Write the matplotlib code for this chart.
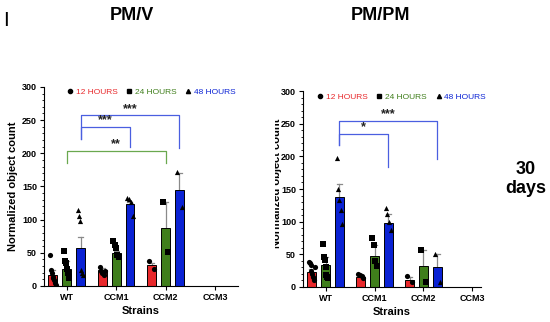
import numpy as np
import matplotlib.pyplot as plt
from matplotlib.lines import Line2D
from matplotlib.transforms import Bbox, TransformedBbox
from matplotlib.ticker import MultipleLocator

plt.rcParams['font.family'] = ['Liberation Sans', 'DejaVu Sans']

strains = ['WT', 'CCM1', 'CCM2', 'CCM3']
hours = ['12 HOURS', '24 HOURS', '48 HOURS']
colors = ['#e8282b', '#3f7e1b', '#0a22d4']
markers = ['o', 's', '^']

# PM/V : bar means, upper error, individual points (per strain, per hour)
pmv_mean = [[17, 25, 57], [24, 49, 124], [31, 88, 145], [0, 0, 0]]
pmv_err = [[24, 38, 74], [27, 53, 127], [34, 127, 171], [0, 0, 0]]
pmv_pts = [
    [[46, 24, 19, 14, 12, 9, 4, 1], [53, 37, 34, 25, 19, 14, 12], [115, 106, 98, 24, 20, 17]],
    [[28, 23, 19, 16, 22], [67, 62, 57, 47, 44], [132, 131, 126, 105]],
    [[38, 25], [126, 51], [172, 119]],
    [[], [], []],
]

# PM/PM
pmpm_mean = [[23, 33, 138], [15, 47, 98], [11, 32, 30], [0, 0, 0]]
pmpm_err = [[28, 46, 157], [18, 64, 112], [15, 56, 51], [0, 0, 0]]
pmpm_pts = [
    [[38, 36, 33, 25, 20, 15, 10, 30], [66, 46, 41, 31, 18, 15, 13], [197, 150, 133, 118, 96]],
    [[20, 18, 16, 14], [75, 64, 40, 32], [121, 112, 99, 87]],
    [[17, 8], [56, 8], [50, 8]],
    [[], [], []],
]

# significance brackets: (strain a, hour a, strain b, hour b, bar y, leg a end, leg b end, label)
pmv_sig = [
    (0, 2, 2, 2, 257, 222, 208, '***'),
    (0, 2, 1, 2, 240, 222, 209, '***'),
    (0, 1, 2, 1, 203, 185, 185, '**'),
]
pmpm_sig = [
    (0, 2, 2, 2, 254, 217, 196, '***'),
    (0, 2, 1, 2, 235, 217, 184, '*'),
]

offsets = [-0.28, 0.0, 0.28]
width = 0.18

fig = plt.figure(figsize=(5.5, 3.22), dpi=100)
ax1 = fig.add_axes([0.080, 0.112, 0.353, 0.618])
ax2 = fig.add_axes([0.551, 0.109, 0.324, 0.608])


def draw(ax, mean, err, pts, sig, xmax):
    x = np.arange(len(strains))
    for h in range(3):
        m = [row[h] for row in mean]
        xs = x + offsets[h]
        keep = [i for i in range(len(strains)) if m[i] > 0]
        ax.bar(xs[keep], [m[i] for i in keep], width=width, color=colors[h],
               edgecolor='black', linewidth=0.7, zorder=2)
        for i in keep:
            e = err[i][h]
            ax.plot([xs[i], xs[i]], [m[i], e], color='#8a8a8a', lw=0.9, zorder=1)
            ax.plot([xs[i] - 0.05, xs[i] + 0.05], [e, e], color='#8a8a8a', lw=0.9, zorder=1)
            p = pts[i][h]
            jit = np.linspace(-width * 0.3, width * 0.3, len(p)) if len(p) > 1 else [0]
            ax.scatter(xs[i] + np.array(jit), p, marker=markers[h], s=14, color='black',
                       zorder=3, linewidths=0)
    for sa, ha, sb, hb, y, ya, yb, lab in sig:
        xa = sa + offsets[ha]
        xb = sb + offsets[hb]
        c = '#6aa84f' if ha == 1 else '#4a5fe0'
        ax.plot([xa, xa, xb, xb], [ya, y, y, yb], color=c, lw=0.9, zorder=1)
        ax.text((xa + xb) / 2, y + 1, lab, ha='center', va='bottom',
                fontsize=9, fontweight='bold', color='#222222')
    ax.set_xlim(-0.46, xmax)
    ax.set_ylim(0, 300)
    ax.set_xticks(x)
    ax.set_xticklabels(strains, fontsize=6.5, fontweight='bold')
    ax.yaxis.set_major_locator(MultipleLocator(50))
    ax.yaxis.set_minor_locator(MultipleLocator(10))
    for lab in ax.get_yticklabels():
        lab.set_fontsize(6.5)
        lab.set_fontweight('bold')
    ax.tick_params(axis='both', which='major', length=3, width=0.8, pad=2)
    ax.tick_params(axis='y', which='minor', length=1.8, width=0.6)
    ax.spines['top'].set_visible(False)
    ax.spines['right'].set_visible(False)
    ax.spines['left'].set_linewidth(0.8)
    ax.spines['bottom'].set_linewidth(0.8)
    ax.set_xlabel('Strains', fontsize=8, fontweight='bold', labelpad=3)
    handles = [Line2D([], [], marker=markers[h], color='black', ls='none', markersize=3)
               for h in range(3)]
    ax.legend(handles, hours, loc='upper center', bbox_to_anchor=(0.55, 1.03), ncol=3,
              frameon=False, labelcolor=colors, handletextpad=0.2,
              columnspacing=0.9, handlelength=1.0, fontsize=6)


draw(ax1, pmv_mean, pmv_err, pmv_pts, pmv_sig, 3.47)
draw(ax2, pmpm_mean, pmpm_err, pmpm_pts, pmpm_sig, 3.18)

ax1.set_ylabel('Normalized object count', fontsize=8, fontweight='bold', labelpad=3)
yl = fig.text(277 / 550, 1 - 183 / 322, 'Normalized object count', rotation=90,
              ha='center', va='center', fontsize=8, fontweight='bold')
yl.set_clip_on(True)
yl.set_clip_box(TransformedBbox(Bbox([[275 / 550, 0], [1, 1]]), fig.transFigure))

fig.text(132 / 550, 1 - 16 / 322, 'PM/V', ha='center', va='center', fontsize=13, fontweight='bold')
fig.text(380 / 550, 1 - 16 / 322, 'PM/PM', ha='center', va='center', fontsize=13, fontweight='bold')
fig.text(6 / 550, 1 - 21 / 322, 'I', ha='center', va='center', fontsize=15)
fig.text(526 / 550, 1 - 179 / 322, '30\ndays', ha='center', va='center', fontsize=13,
         fontweight='bold', linespacing=1.1)

fig.savefig('out.png', dpi=100)
